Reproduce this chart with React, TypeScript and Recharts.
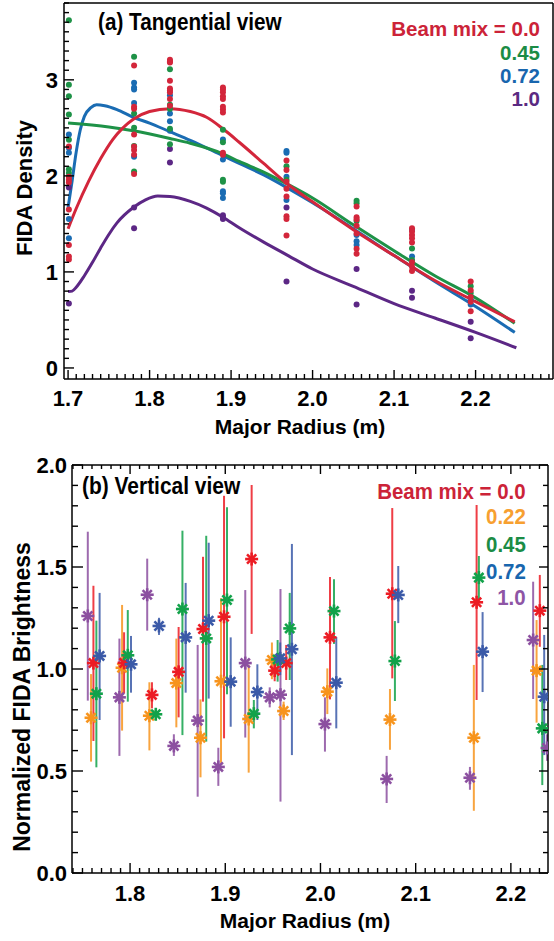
import { ComposedChart, Scatter, Line, XAxis, YAxis, ErrorBar } from 'recharts';

const FONT = '"Liberation Sans", Arial, Helvetica, sans-serif';

// ---------- panel (a): tangential view ----------
const radiiA = [1.701, 1.781, 1.825, 1.89, 1.968, 2.054, 2.122, 2.194];

const dotsRedA = [
  [2.305, 1.99, 1.96, 1.93, 1.65, 1.28, 1.16, 1.13],
  [3.15, 2.72, 2.7, 2.43, 2.305, 2.27, 2.22, 2.02],
  [3.21, 3.19, 3.18, 2.99, 2.91, 2.89, 2.87, 2.8, 2.73],
  [2.92, 2.9, 2.87, 2.83, 2.8, 2.72, 2.69, 2.66, 2.24, 2.22],
  [2.16, 2.06, 1.94, 1.865, 1.785, 1.58, 1.55, 1.38],
  [1.68, 1.57, 1.545, 1.48, 1.4, 1.24, 1.19],
  [1.455, 1.42, 1.385, 1.35, 1.305, 1.1, 1.055, 1.01],
  [0.9, 0.81, 0.74, 0.69, 0.59],
];
const dotsGreenA = [
  [3.62, 2.95, 2.83, 2.64, 2.375, 2.07, 2.03],
  [3.24, 2.65, 2.5, 2.31, 2.045],
  [3.11, 2.74, 2.7, 2.49, 2.33],
  [2.48, 2.35, 1.96, 1.94],
  [2.1, 1.96],
  [1.74, 1.715, 1.53],
  [1.245, 1.125],
  [0.85, 0.78],
];
const dotsBlueA = [
  [2.43, 2.29, 2.24, 1.55, 1.35],
  [2.97, 2.92, 2.9, 2.76, 2.2],
  [2.84, 2.65, 2.57, 2.47],
  [2.38, 2.17, 1.84, 1.82, 1.77],
  [2.26, 2.24, 1.99, 1.75],
  [1.385, 1.32, 1.28],
  [1.44, 1.16],
  [0.71, 0.66],
];
const dotsPurpleA = [
  [1.88, 0.67],
  [1.67, 1.455],
  [2.28, 2.14],
  [1.59, 1.57, 1.55],
  [1.67, 0.9],
  [1.03, 0.66],
  [0.805, 0.73],
  [0.48, 0.31],
];

const curveBlueR = [1.7, 1.705, 1.71, 1.715, 1.72, 1.728, 1.735, 1.745, 1.76, 1.78, 1.8, 1.825, 1.85, 1.89, 1.91, 1.94, 1.97, 2.0, 2.05, 2.1, 2.15, 2.2, 2.248];
const curveBlueV = [1.67, 1.95, 2.25, 2.48, 2.62, 2.71, 2.74, 2.73, 2.69, 2.61, 2.55, 2.46, 2.37, 2.21, 2.13, 2.01, 1.87, 1.72, 1.45, 1.17, 0.9, 0.64, 0.37];
const curveGreenR = [1.7, 1.75, 1.78, 1.825, 1.85, 1.89, 1.91, 1.94, 1.97, 2.0, 2.05, 2.1, 2.15, 2.2, 2.248];
const curveGreenV = [2.55, 2.51, 2.47, 2.39, 2.34, 2.23, 2.15, 2.04, 1.91, 1.77, 1.49, 1.22, 0.96, 0.73, 0.465];
const curveRedR = [1.7, 1.71, 1.725, 1.74, 1.755, 1.78, 1.8, 1.825, 1.85, 1.87, 1.89, 1.91, 1.94, 1.97, 2.0, 2.05, 2.1, 2.15, 2.2, 2.248];
const curveRedV = [1.45, 1.66, 1.94, 2.18, 2.38, 2.59, 2.67, 2.7, 2.67, 2.61, 2.49, 2.35, 2.13, 1.91, 1.73, 1.44, 1.17, 0.91, 0.69, 0.48];
const curvePurpleR = [1.7, 1.705, 1.71, 1.72, 1.73, 1.74, 1.75, 1.76, 1.78, 1.795, 1.81, 1.825, 1.85, 1.87, 1.89, 1.91, 1.94, 1.97, 2.0, 2.05, 2.1, 2.15, 2.2, 2.25];
const curvePurpleV = [0.795, 0.8, 0.84, 0.96, 1.1, 1.25, 1.39, 1.51, 1.67, 1.75, 1.79, 1.785, 1.735, 1.665, 1.57, 1.46, 1.31, 1.17, 1.03, 0.85, 0.67, 0.52, 0.37, 0.21];

const majorXA = [1.7, 1.8, 1.9, 2.0, 2.1, 2.2];
const majorYA = [0, 1, 2, 3];

// ---------- panel (b): vertical view ----------
const redBx = [1.7615, 1.7937, 1.823, 1.851, 1.8766, 1.8987, 1.9277, 1.9519, 1.964, 2.01, 2.0754, 2.164, 2.2304];
const redBy = [1.029, 1.03, 0.873, 0.986, 1.196, 1.256, 1.539, 0.992, 1.029, 1.155, 1.369, 1.327, 1.286];
const redBlo = [0.647, 0.88, 0.807, 0.763, 0.84, 0.66, 1.172, 0.94, 0.946, 0.851, 0.954, 0.848, 1.109];
const redBhi = [1.408, 1.18, 0.935, 1.206, 1.55, 1.849, 1.902, 1.05, 1.118, 1.451, 1.789, 1.804, 1.461];

const orangeBx = [1.759, 1.7916, 1.8203, 1.8486, 1.874, 1.8955, 1.9246, 1.949, 1.9613, 2.0072, 2.073, 2.1611, 2.227];
const orangeBy = [0.761, 1.006, 0.771, 0.931, 0.663, 0.94, 0.755, 1.044, 0.794, 0.889, 0.752, 0.663, 0.992];
const orangeBlo = [0.546, 0.698, 0.601, 0.714, 0.469, 0.54, 0.492, 0.95, 0.75, 0.779, 0.604, 0.305, 0.737];
const orangeBhi = [0.975, 1.314, 0.935, 1.149, 0.851, 1.347, 1.02, 1.13, 0.84, 1.003, 0.902, 1.02, 1.24];

const greenBx = [1.7646, 1.7976, 1.827, 1.855, 1.88, 1.9018, 1.93, 1.955, 1.9677, 2.0142, 2.0782, 2.1664, 2.233];
const greenBy = [0.879, 1.067, 0.778, 1.294, 1.15, 1.338, 0.781, 1.047, 1.199, 1.284, 1.039, 1.448, 0.709];
const greenBlo = [0.518, 0.84, 0.76, 0.676, 0.644, 0.876, 0.709, 0.938, 0.946, 1.123, 0.843, 1.338, 0.431];
const greenBhi = [1.237, 1.289, 0.8, 1.678, 1.653, 1.793, 0.848, 1.142, 1.373, 1.44, 1.235, 1.554, 1.02];

const blueBx = [1.768, 1.801, 1.8304, 1.8584, 1.8826, 1.9057, 1.9337, 1.9577, 1.97, 2.0166, 2.0817, 2.1703, 2.235];
const blueBy = [1.064, 1.023, 1.211, 1.155, 1.237, 0.938, 0.887, 1.052, 1.097, 0.933, 1.363, 1.085, 0.864];
const blueBlo = [0.75, 0.884, 1.167, 0.884, 0.855, 0.717, 0.75, 0.97, 0.578, 0.709, 1.225, 0.887, 0.578];
const blueBhi = [1.373, 1.162, 1.251, 1.422, 1.619, 1.155, 1.023, 1.13, 1.613, 1.157, 1.505, 1.279, 1.167];

const purpleBx = [1.7556, 1.7888, 1.818, 1.846, 1.871, 1.8927, 1.921, 1.9467, 1.958, 2.0047, 2.0695, 2.157, 2.2234, 2.238];
const purpleBy = [1.26, 0.861, 1.364, 0.623, 0.747, 0.52, 1.029, 0.861, 0.874, 0.73, 0.461, 0.467, 1.142, 0.613];
const purpleBlo = [0.845, 0.574, 1.188, 0.574, 0.374, 0.427, 0.664, 0.812, 0.35, 0.595, 0.343, 0.408, 0.853, 0.55];
const purpleBhi = [1.673, 1.149, 1.541, 0.68, 1.118, 0.614, 1.387, 0.91, 1.392, 0.861, 0.574, 0.52, 1.428, 0.68];

const majorXB = [1.8, 1.9, 2.0, 2.1, 2.2];
const majorYB = [0, 0.5, 1.0, 1.5, 2.0];

// ---------- helpers ----------
function steps(from: number, to: number, step: number) {
  const out: number[] = [];
  const n = Math.round((to - from) / step);
  for (let i = 0; i <= n; i++) out.push(+(from + i * step).toFixed(4));
  return out;
}

const dotsFromColumns = (cols: number[][]) =>
  cols.flatMap((col, i) => col.map((v) => ({ x: radiiA[i], y: v })));

const curve = (r: number[], v: number[]) => r.map((x, i) => ({ x, y: v[i] }));

const withErr = (xs: number[], ys: number[], lo: number[], hi: number[]) =>
  xs.map((x, i) => ({ x, y: ys[i], err: [ys[i] - lo[i], hi[i] - ys[i]] }));

type Side = 'bottom' | 'left' | 'top' | 'right';

function tickFn(side: Side, majors: number[], majorLen: number, minorLen: number, fmt: ((v: number) => string) | null, gap = 0) {
  return (props: any) => {
    const { x, y, payload } = props;
    const v = payload.value as number;
    const major = majors.some((m) => Math.abs(m - v) < 1e-6);
    const len = major ? majorLen : minorLen;
    let end = { x2: x, y2: y - len };
    if (side === 'top') end = { x2: x, y2: y + len };
    if (side === 'left') end = { x2: x + len, y2: y };
    if (side === 'right') end = { x2: x - len, y2: y };
    return (
      <g>
        <line x1={x} y1={y} {...end} stroke="#000" strokeWidth={1.4} />
        {major && fmt && side === 'bottom' && (
          <text x={x} y={y + gap} textAnchor="middle" fontFamily={FONT} fontWeight={700} fontSize={22} fill="#000">
            {fmt(v)}
          </text>
        )}
        {major && fmt && side === 'left' && (
          <text x={x - gap} y={y + 7.8} textAnchor="end" fontFamily={FONT} fontWeight={700} fontSize={22} fill="#000">
            {fmt(v)}
          </text>
        )}
      </g>
    );
  };
}

const Dot = (color: string) => (props: any) => <circle cx={props.cx} cy={props.cy} r={3} fill={color} />;

const Asterisk = (color: string) => (props: any) => {
  const { cx, cy } = props;
  const r = 6.5;
  const d = 4.6;
  return (
    <g stroke={color} strokeWidth={2.6}>
      <line x1={cx - r} y1={cy} x2={cx + r} y2={cy} />
      <line x1={cx} y1={cy - r} x2={cx} y2={cy + r} />
      <line x1={cx - d} y1={cy - d} x2={cx + d} y2={cy + d} />
      <line x1={cx - d} y1={cy + d} x2={cx + d} y2={cy - d} />
    </g>
  );
};

const axisLine = { stroke: '#000', strokeWidth: 1.5 };

const A = { red: '#d3263b', green: '#1e9247', blue: '#1a6cb3', purple: '#5c2785' };
const B = { red: '#ec1c24', orange: '#f7941d', green: '#12a24a', blue: '#3b5aa8', purple: '#8c50a0' };

function PanelA() {
  const xDomain: [number, number] = [1.695, 2.295];
  const yDomain: [number, number] = [-0.115, 3.8];
  return (
    <ComposedChart width={554} height={440} margin={{ top: 2, right: 0, bottom: 0, left: 0 }}>
      <XAxis dataKey="x" type="number" domain={xDomain} allowDataOverflow ticks={steps(1.7, 2.29, 0.01)} interval={0}
        tickSize={0} tickMargin={0} tickLine={false} axisLine={axisLine} height={61}
        tick={tickFn('bottom', majorXA, 9, 5, (v) => v.toFixed(1), 27)} />
      <XAxis xAxisId="top" orientation="top" dataKey="x" type="number" domain={xDomain} allowDataOverflow height={1}
        ticks={[2.0]} tickSize={0} tickMargin={0} tickLine={false} axisLine={axisLine} tick={() => <g />} />
      <YAxis dataKey="y" type="number" domain={yDomain} allowDataOverflow ticks={steps(0, 3.8, 0.1)} interval={0}
        tickSize={0} tickMargin={0} tickLine={false} axisLine={axisLine} width={64}
        tick={tickFn('left', majorYA, 10, 5, (v) => String(v), 6)} />
      <YAxis yAxisId="right" orientation="right" dataKey="y" type="number" domain={yDomain} allowDataOverflow width={1}
        ticks={[1]} tickSize={0} tickMargin={0} tickLine={false} axisLine={axisLine} tick={() => <g />} />
      {/* purple dots sit on the twin (top/right) axes, which share the same domains */}
      <Scatter xAxisId="top" yAxisId="right" data={dotsFromColumns(dotsPurpleA)} shape={Dot(A.purple)} isAnimationActive={false} />
      <Scatter data={dotsFromColumns(dotsBlueA)} shape={Dot(A.blue)} isAnimationActive={false} />
      <Scatter data={dotsFromColumns(dotsGreenA)} shape={Dot(A.green)} isAnimationActive={false} />
      <Scatter data={dotsFromColumns(dotsRedA)} shape={Dot(A.red)} isAnimationActive={false} />
      <Line data={curve(curveBlueR, curveBlueV)} dataKey="y" type="monotone" stroke={A.blue} strokeWidth={3} dot={false} isAnimationActive={false} />
      <Line data={curve(curveGreenR, curveGreenV)} dataKey="y" type="monotone" stroke={A.green} strokeWidth={3} dot={false} isAnimationActive={false} />
      <Line data={curve(curveRedR, curveRedV)} dataKey="y" type="monotone" stroke={A.red} strokeWidth={3} dot={false} isAnimationActive={false} />
      <Line data={curve(curvePurpleR, curvePurpleV)} dataKey="y" type="monotone" stroke={A.purple} strokeWidth={3} dot={false} isAnimationActive={false} />
    </ComposedChart>
  );
}

const seriesB = [
  { color: B.purple, data: withErr(purpleBx, purpleBy, purpleBlo, purpleBhi) },
  { color: B.orange, data: withErr(orangeBx, orangeBy, orangeBlo, orangeBhi) },
  { color: B.red, data: withErr(redBx, redBy, redBlo, redBhi) },
  { color: B.green, data: withErr(greenBx, greenBy, greenBlo, greenBhi) },
  { color: B.blue, data: withErr(blueBx, blueBy, blueBlo, blueBhi) },
];

function PanelB() {
  const xDomain: [number, number] = [1.739, 2.239];
  const yDomain: [number, number] = [0, 2];
  const xTicks = steps(1.74, 2.23, 0.01);
  const yTicks = steps(0, 2, 0.1);
  return (
    <ComposedChart width={554} height={501} margin={{ top: 24, right: 5, bottom: 0, left: 0 }}>
      <XAxis dataKey="x" type="number" domain={xDomain} allowDataOverflow ticks={xTicks} interval={0}
        tickSize={0} tickMargin={0} tickLine={false} axisLine={axisLine} height={68}
        tick={tickFn('bottom', majorXB, 10, 5, (v) => v.toFixed(1), 28)} />
      <XAxis xAxisId="top" orientation="top" dataKey="x" type="number" domain={xDomain} allowDataOverflow ticks={xTicks} interval={0}
        tickSize={0} tickMargin={0} tickLine={false} axisLine={axisLine} height={1}
        tick={tickFn('top', majorXB, 9, 4, null)} />
      <YAxis dataKey="y" type="number" domain={yDomain} allowDataOverflow ticks={yTicks} interval={0}
        tickSize={0} tickMargin={0} tickLine={false} axisLine={axisLine} width={72}
        tick={tickFn('left', majorYB, 11, 6, (v) => v.toFixed(1), 5)} />
      <YAxis yAxisId="right" orientation="right" dataKey="y" type="number" domain={yDomain} allowDataOverflow ticks={yTicks} interval={0}
        tickSize={0} tickMargin={0} tickLine={false} axisLine={axisLine} width={1}
        tick={tickFn('right', majorYB, 9, 5, null)} />
      {seriesB.map((s, i) => (
        <Scatter key={s.color} xAxisId={i === 0 ? 'top' : 0} yAxisId={i === 0 ? 'right' : 0}
          data={s.data} shape={Asterisk(s.color)} isAnimationActive={false}>
          <ErrorBar dataKey="err" direction="y" width={0} stroke={s.color} strokeWidth={2} strokeOpacity={0.85} />
        </Scatter>
      ))}
    </ComposedChart>
  );
}

const label = (text: string, left: number, cy: number, size: number, color = '#000', sx = 1) => (
  <div style={{ position: 'absolute', left, top: cy - 0.42 * size, fontSize: size, lineHeight: `${0.84 * size}px`, color,
    whiteSpace: 'nowrap', transform: `scaleX(${sx})`, transformOrigin: 'left center' }}>{text}</div>
);

const rlabel = (text: string, right: number, cy: number, size: number, color: string, sx = 1) => (
  <div style={{ position: 'absolute', right: 554 - right, top: cy - 0.42 * size, fontSize: size, lineHeight: `${0.84 * size}px`, color,
    whiteSpace: 'nowrap', transform: `scaleX(${sx})`, transformOrigin: 'right center' }}>{text}</div>
);

const clabel = (text: string, cx: number, cy: number, size: number, rotate = false) => (
  <div style={{ position: 'absolute', left: cx, top: cy, fontSize: size, lineHeight: `${size}px`, color: '#000',
    whiteSpace: 'nowrap', transform: `translate(-50%, -50%)${rotate ? ' rotate(-90deg)' : ''}` }}>{text}</div>
);

export default function App() {
  return (
    <div style={{ position: 'absolute', left: 0, top: 0, width: 554, height: 941, background: '#fff', fontFamily: FONT, fontWeight: 700, overflow: 'hidden' }}>
      <div style={{ position: 'absolute', left: 0, top: 0 }}><PanelA /></div>
      <div style={{ position: 'absolute', left: 0, top: 440 }}><PanelB /></div>

      {label('(a) Tangential view', 98, 23, 23, '#000', 0.9)}
      {rlabel('Beam mix = 0.0', 540, 29, 20.5, '#cc2338')}
      {rlabel('0.45', 540, 52.5, 20.5, '#1b8c45')}
      {rlabel('0.72', 540, 76, 20.5, '#1866ae')}
      {rlabel('1.0', 540, 99, 20.5, '#5a2a82')}
      {clabel('Major Radius (m)', 300, 426, 21)}
      {clabel('FIDA Density', 25, 188, 22, true)}

      {label('(b) Vertical view', 82, 487, 23, '#000', 0.91)}
      {rlabel('Beam mix = 0.0', 526, 492, 22, '#cc2338', 0.93)}
      {rlabel('0.22', 526, 517.5, 22, '#f7a030', 0.93)}
      {rlabel('0.45', 526, 545, 22, '#1b8c45', 0.93)}
      {rlabel('0.72', 526, 572, 22, '#1866ae', 0.93)}
      {rlabel('1.0', 526, 598, 22, '#8e55a5', 0.93)}
      {clabel('Major Radius  (m)', 305, 920, 21)}
      {clabel('Normalized FIDA Brightness', 22, 697, 23, true)}
    </div>
  );
}
